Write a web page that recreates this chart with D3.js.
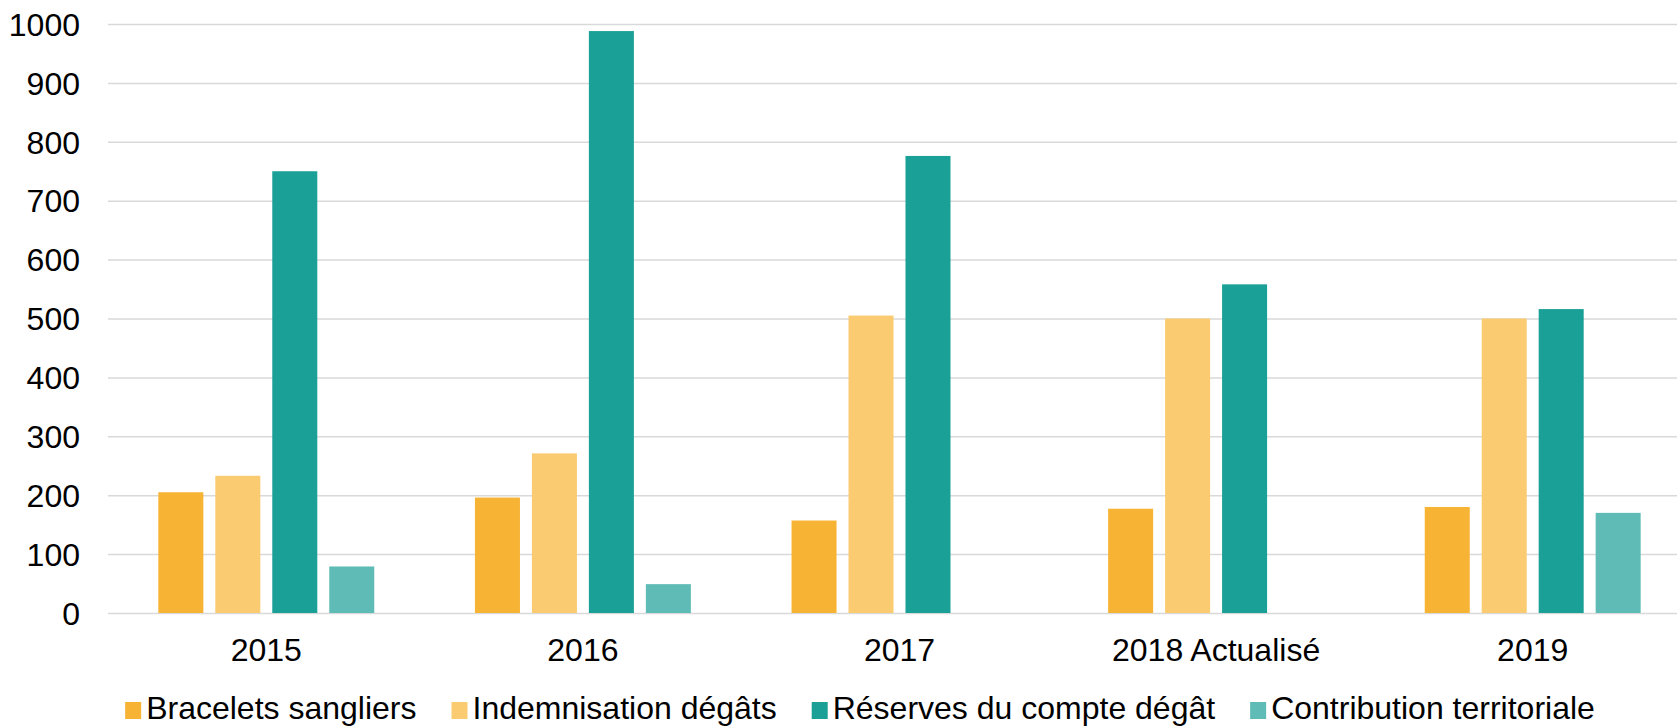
<!DOCTYPE html>
<html>
<head>
<meta charset="utf-8">
<script src="https://cdn.jsdelivr.net/npm/d3@7"></script>
<style>
  body { margin: 0; background: #fff; }
  svg { display: block; font-family: "Liberation Sans", Arial, sans-serif; }
  .grid line { stroke: #d9d9d9; stroke-width: 1.5; }
  .grid .domain { display: none; }
  .tick text { fill: #000; font-size: 32px; }
  .legendText { font-size: 32px; fill: #000; }
</style>
</head>
<body>
<div id="chart"></div>
<script>
const categories = ["2015", "2016", "2017", "2018 Actualisé", "2019"];
const seriesNames = ["Bracelets sangliers", "Indemnisation dégâts", "Réserves du compte dégât", "Contribution territoriale"];
const bracelets = [205, 196, 157, 177, 180];
const indemnisation = [233, 271, 505, 500, 500];
const reserves = [750, 988, 776, 558, 516];
const contribution = [79, 49, 0, 0, 170];
const colors = ["#f7b334", "#facb71", "#1aa096", "#5ebbb5"];
const yTicks = [0, 100, 200, 300, 400, 500, 600, 700, 800, 900, 1000];

const seriesValues = [bracelets, indemnisation, reserves, contribution];

const width = 1677;
const height = 727;
const margin = { top: 24, left: 108 };
const plotWidth = 1583; // runs past the right edge, like the reference
const plotBottom = 613;

const svg = d3.select("#chart").append("svg")
  .attr("width", width)
  .attr("height", height);

const x0 = d3.scaleBand()
  .domain(categories)
  .range([margin.left, margin.left + plotWidth])
  .paddingInner(0.318)
  .paddingOuter(0.159);

const x1 = d3.scaleBand()
  .domain(seriesNames)
  .range([0, x0.bandwidth()])
  .paddingInner(0.21);

const y = d3.scaleLinear()
  .domain([0, 1000])
  .range([plotBottom, margin.top]);

// gridlines + y labels
const gy = svg.append("g")
  .attr("class", "grid")
  .attr("transform", `translate(${margin.left},0)`)
  .call(d3.axisLeft(y).tickValues(yTicks).tickFormat(d3.format("d")).tickSize(-plotWidth).tickPadding(28));
gy.selectAll(".tick text").attr("dy", "0.35em");

// bars
const rows = categories.map((c, i) => ({
  cat: c,
  vals: seriesNames.map((s, j) => ({ name: s, value: seriesValues[j][i], color: colors[j] }))
}));

const groups = svg.selectAll(".group")
  .data(rows)
  .enter()
  .append("g")
  .attr("class", "group")
  .attr("transform", d => `translate(${x0(d.cat)},0)`);

groups.selectAll("rect")
  .data(d => d.vals)
  .enter()
  .append("rect")
  .attr("x", d => x1(d.name))
  .attr("width", x1.bandwidth())
  .attr("y", d => y(d.value))
  .attr("height", d => plotBottom - y(d.value))
  .attr("fill", d => d.color);

// x labels
const gx = svg.append("g")
  .attr("transform", `translate(0,${plotBottom})`)
  .call(d3.axisBottom(x0).tickSize(0).tickPadding(25));
gx.select(".domain").remove();
gx.selectAll(".tick text").attr("dy", "0.71em");

// legend
const legend = svg.append("g").attr("class", "legend");
const swatch = 16;
const gap = 35;
let xPos = 0;
seriesNames.forEach((name, i) => {
  const item = legend.append("g").attr("transform", `translate(${xPos},0)`);
  item.append("rect")
    .attr("x", 0)
    .attr("y", -17)
    .attr("width", swatch)
    .attr("height", 17)
    .attr("fill", colors[i]);
  const t = item.append("text")
    .attr("class", "legendText")
    .attr("x", swatch + 5)
    .attr("y", 0)
    .text(name);
  xPos += swatch + 5 + t.node().getComputedTextLength() + gap;
});
const legendWidth = xPos - gap;
legend.attr("transform", `translate(${860 - legendWidth / 2},719)`);
</script>
</body>
</html>
